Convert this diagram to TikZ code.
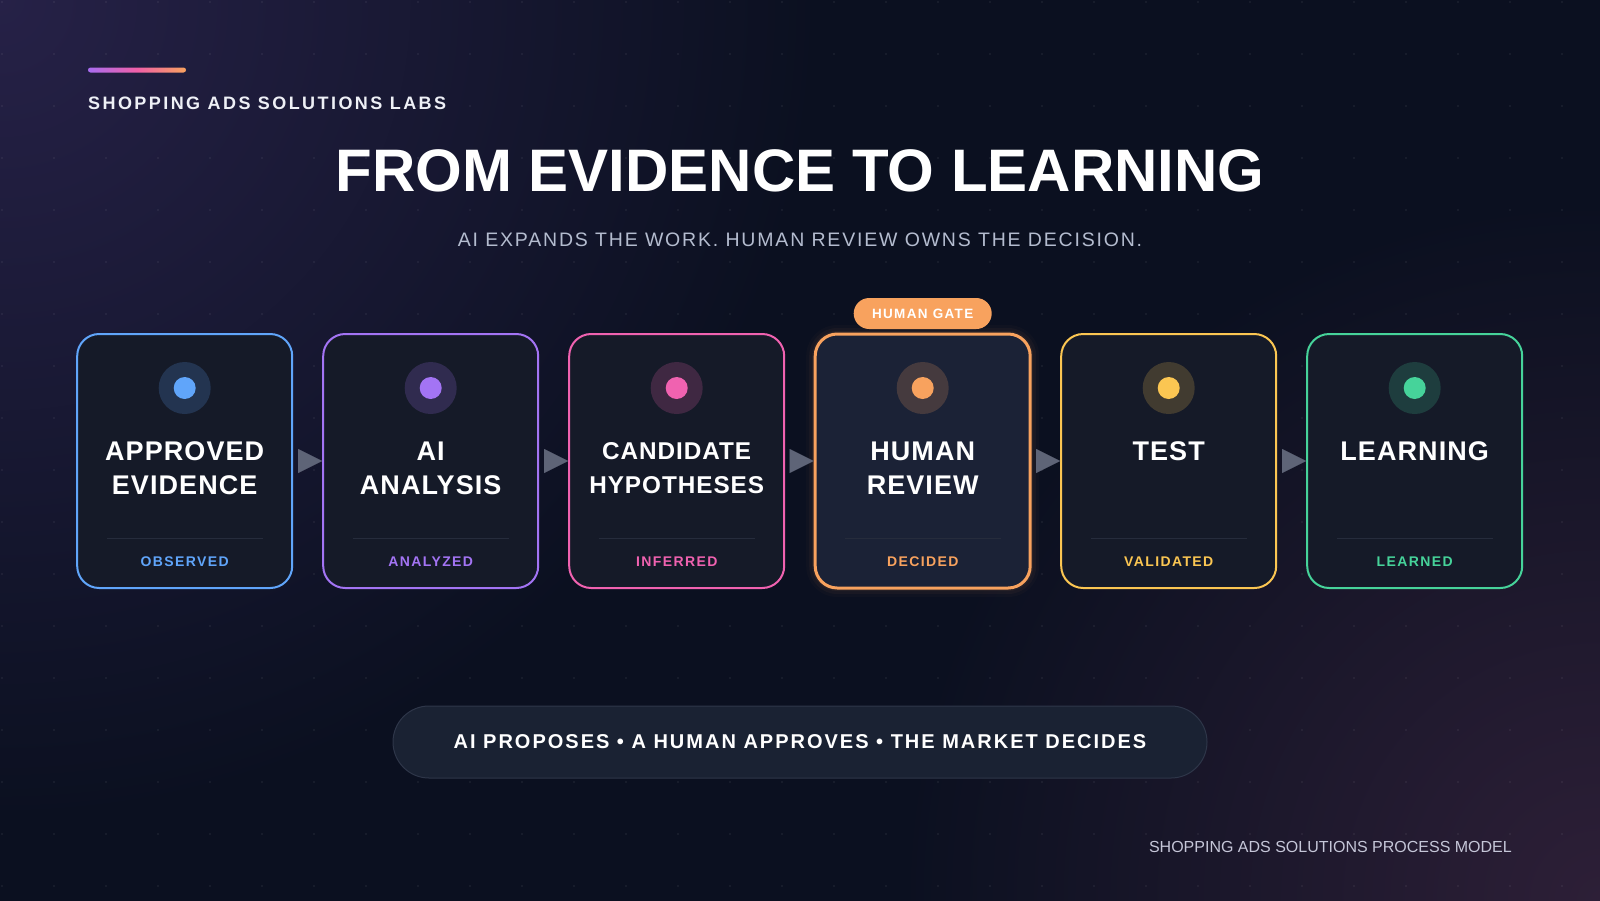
\documentclass[tikz,border=0pt]{standalone}
\usepackage{fontspec}
\setmainfont{Liberation Sans}
\newfontfamily\fsLab[LetterSpace=13.5]{Liberation Sans}
\newfontfamily\fsSub[LetterSpace=9.3]{Liberation Sans}
\newfontfamily\fsCard[LetterSpace=4]{Liberation Sans}
\newfontfamily\fsTag[LetterSpace=10]{Liberation Sans}
\newfontfamily\fsPill[LetterSpace=10]{Liberation Sans}
\usetikzlibrary{arrows.meta,shapes.misc,calc}
\definecolor{bg}{HTML}{0B1020}
\definecolor{bgTL}{HTML}{262147}
\definecolor{bgBR}{HTML}{2D1F37}
\definecolor{cardfill}{HTML}{151A28}
\definecolor{humanfill}{HTML}{1B2236}
\definecolor{subc}{HTML}{B4BCCF}
\definecolor{labc}{HTML}{EEF0F6}
\definecolor{footc}{HTML}{C5C6D8}
\definecolor{arrowc}{HTML}{5E6477}
\definecolor{divc}{HTML}{262C3C}
\definecolor{pillfill}{HTML}{1A2233}
\definecolor{pillborder}{HTML}{2E3649}
\definecolor{cblue}{HTML}{60A5FA}
\definecolor{cpurple}{HTML}{A374F4}
\definecolor{cpink}{HTML}{F062B0}
\definecolor{corange}{HTML}{F8A25E}
\definecolor{cyellow}{HTML}{FBC652}
\definecolor{cgreen}{HTML}{46D39A}
\definecolor{barpurple}{HTML}{A86CF0}
\definecolor{barpink}{HTML}{F060A8}
\begin{document}
\begin{tikzpicture}[x=1pt,y=-1pt,
  card/.style={rectangle, rounded corners=22pt, minimum width=215pt, minimum height=254pt, line width=2pt, inner sep=0pt},
  ring/.style={circle, minimum size=52pt, inner sep=0pt},
  dot/.style={circle, minimum size=22pt, inner sep=0pt},
  cardtitle/.style={text=white, align=center, inner sep=0pt, anchor=north},
  status/.style={font=\fsTag\bfseries\fontsize{14}{17}\selectfont, inner sep=0pt, anchor=base},
  flow/.style={draw=arrowc, line width=0.01pt, shorten <=5pt, -{Triangle[length=24pt,width=24pt,fill=arrowc]}},
  gate/.style={rounded rectangle, fill=corange, minimum width=138pt, minimum height=31pt, inner sep=0pt, text=white, font=\fsTag\bfseries\fontsize{13.5}{16}\selectfont},
  motto/.style={rounded rectangle, fill=pillfill, draw=pillborder, line width=1pt, minimum width=814pt, minimum height=72pt, inner sep=0pt, text=white, font=\fsPill\bfseries\fontsize{20}{24}\selectfont}
]
\useasboundingbox (0,0) rectangle (1600,900);
\fill[bg] (-10,-10) rectangle (1610,910);
\shade[inner color=bgTL, outer color=bg] (0,0) circle (820);
\shade[inner color=bgBR, outer color=bg] (1600,900) circle (700);
% dot grid
\foreach \i in {0,...,30} {
  \foreach \j in {0,...,17} {
    \fill[white, opacity=0.07] (52*\i+2, 52*\j+2) circle (1.1);
  }
}
% accent bar
\shade[left color=barpurple, right color=corange, middle color=barpink, rounded corners=2.5pt] (88,67.5) rectangle (186,72.5);
% header texts
\node[font=\fsLab\bfseries\fontsize{18}{22}\selectfont, text=labc, anchor=base west, inner sep=0pt] (lab) at (88,109.5) {SHOPPING ADS SOLUTIONS LABS};
\node[font=\bfseries\fontsize{60}{72}\selectfont, text=white, anchor=base, inner sep=0pt] (title) at (800,191) {FROM EVIDENCE TO LEARNING};
\node[font=\fsSub\fontsize{19.5}{24}\selectfont, text=subc, anchor=base, inner sep=0pt] (sub) at (800,246) {AI EXPANDS THE WORK. HUMAN REVIEW OWNS THE DECISION.};
% human card glow
\foreach \k/\op in {9/0.025,6/0.04,3/0.06} {
  \fill[corange, opacity=\op, rounded corners=22pt+\k pt] (922.7-107.5-\k, 334-\k) rectangle (922.7+107.5+\k, 588+\k);
}
% cards
\foreach \n/\cx/\col/\ttl/\st/\fl/\lw/\fsz in {
  1/184.7/cblue/{APPROVED\\EVIDENCE}/OBSERVED/cardfill/2/27,
  2/430.7/cpurple/{AI\\ANALYSIS}/ANALYZED/cardfill/2/27,
  3/676.7/cpink/{CANDIDATE\\HYPOTHESES}/INFERRED/cardfill/2/24.3,
  4/922.7/corange/{HUMAN\\REVIEW}/DECIDED/humanfill/3/27,
  5/1168.7/cyellow/{TEST}/VALIDATED/cardfill/2/27,
  6/1414.7/cgreen/{LEARNING}/LEARNED/cardfill/2/27} {
  \node[card, draw=\col, fill=\fl, line width=\lw pt] (c\n) at (\cx,461) {};
  \node[ring, fill=\col!19!\fl] (r\n) at (\cx,388) {};
  \node[dot, fill=\col] (d\n) at (\cx,388) {};
  \node[cardtitle, font=\fsCard\bfseries\fontsize{\fsz}{34}\selectfont] (t\n) at (\cx,451.5-0.358*\fsz) {\ttl};
  \draw[divc, line width=1pt] (\cx-78,538) -- (\cx+78,538);
  \node[status, text=\col] (s\n) at (\cx,566) {\st};
}
% arrows
\foreach \a/\b in {1/2,2/3,3/4,4/5,5/6} {
  \draw[flow] (c\a.east) -- (c\b.west);
}
% human gate
\node[gate] (gate) at (922.7,313.5) {HUMAN GATE};
% motto
\node[motto] (motto) at (800,742) {AI PROPOSES • A HUMAN APPROVES • THE MARKET DECIDES};
% footer
\node[font=\fontsize{16}{20}\selectfont, text=footc, anchor=base east, inner sep=0pt] (foot) at (1512,852) {SHOPPING ADS SOLUTIONS PROCESS MODEL};
\end{tikzpicture}
\end{document}
